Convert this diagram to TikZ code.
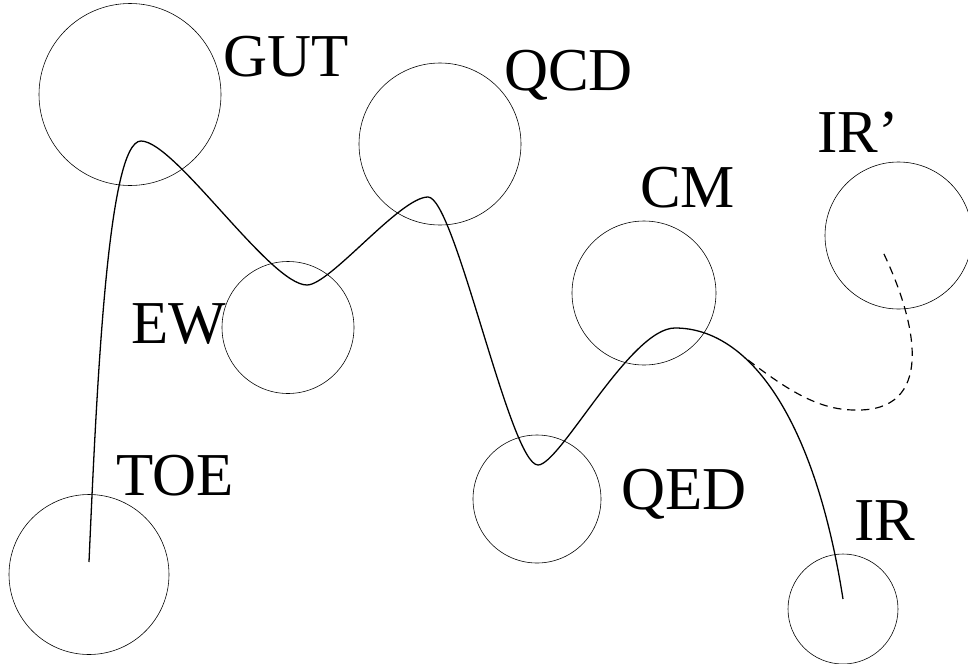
\documentclass[tikz,border=0pt]{standalone}
\usepackage{fontspec}
\setmainfont{Liberation Serif}
\usepackage{tikz}

\tikzset{
  cercle/.style={draw, circle, line width=0.5pt, inner sep=0pt, outer sep=0pt},
  etiquette/.style={anchor=base west, inner sep=0pt, font=\fontsize{52}{60}\selectfont},
  courbe/.style={line width=1.1pt},
  branchepointillee/.style={line width=1pt, dash pattern=on 7pt off 5pt}
}

\begin{document}
\begin{tikzpicture}[x=0.03cm, y=-0.03cm]
                \useasboundingbox (0,0) rectangle (968,663);

                % Dessiner les cercles
                \foreach \nom/\x/\y/\r in {gut/130/94.5/91, qcd/440/144/81, ew/288/327.5/66,
                    cm/644/293/72, irp/898.5/235.5/73.5, toe/89/574.5/80, qed/537/499/64, ir/843/609/55} {
                    \node[cercle, minimum size=2*\r*0.03cm] (\nom) at (\x,\y) {};
                }

                % Ajouter les noms
                \node[etiquette] (gut-nom) at (223,76) {GUT};
                \node[etiquette] (qcd-nom) at (504,90) {QCD};
                \node[etiquette] (irp-nom) at (817,152) {IR'};
                \node[etiquette] (cm-nom) at (640,207) {CM};
                \node[etiquette] (ew-nom) at (131,343) {EW};
                \node[etiquette] (toe-nom) at (116,495) {TOE};
                \node[etiquette] (qed-nom) at (621,509) {QED};
                \node[etiquette] (ir-nom) at (854,540) {IR};

                % Points de la courbe
                \coordinate (depart) at (89,562);
                \coordinate (sommet-gut) at (141,141);
                \coordinate (creux-ew) at (307,285);
                \coordinate (sommet-qcd) at (428,197);
                \coordinate (creux-qed) at (538,465);
                \coordinate (sommet-cm) at (675,328);
                \coordinate (arrivee) at (843,599);
                \coordinate (branche) at (748,360);
                \coordinate (bas) at (855,410);
                \coordinate (arrivee-prime) at (883,252);

                % Tracer la courbe
                \draw[courbe] (depart) .. controls (97,380) and (108,141) .. (sommet-gut)
                    .. controls (175,141) and (270,285) .. (creux-ew)
                    .. controls (330,285) and (400,197) .. (sommet-qcd)
                    .. controls (455,197) and (510,465) .. (creux-qed)
                    .. controls (560,465) and (630,328) .. (sommet-cm)
                    .. controls (750,328) and (815,420) .. (arrivee);

                % Ajouter la branche en pointillés
                \draw[branchepointillee] (branche) .. controls (790,392) and (820,410) .. (bas)
                    .. controls (935,412) and (918,325) .. (arrivee-prime);
            \end{tikzpicture}
\end{document}
